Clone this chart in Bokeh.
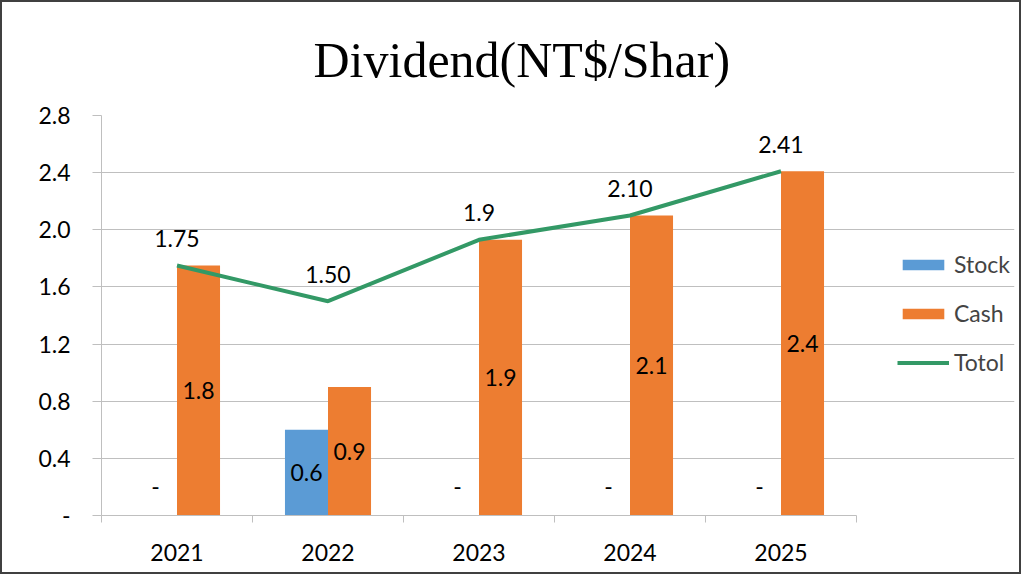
from bokeh.plotting import figure
from bokeh.models import (ColumnDataSource, LabelSet, Legend, LegendItem,
                          FixedTicker, Range1d, PrintfTickFormatter)
from bokeh.core.properties import value
from bokeh.embed import file_html
from bokeh.resources import INLINE

years = ["2021", "2022", "2023", "2024", "2025"]
stock = [0, 0.6, 0, 0, 0]
cash = [1.75, 0.9, 1.93, 2.10, 2.41]
total = [1.75, 1.50, 1.93, 2.10, 2.41]
total_labels = ["1.75", "1.50", "1.9", "2.10", "2.41"]
cash_labels = ["1.8", "0.9", "1.9", "2.1", "2.4"]
stock_labels = ["-", "0.6", "-", "-", "-"]
y_ticks = [0, 0.4, 0.8, 1.2, 1.6, 2.0, 2.4, 2.8]

BLUE = "#5B9BD5"
ORANGE = "#ED7D31"
GREEN = "#339966"
GRID = "#BFBFBF"
FONT = "Lato"

n = len(years)
PLOT_W = 755      # pixel width of the category area
FRAME_W = 913     # frame also hosts the legend on its right
xc = [i + 0.5 for i in range(n)]
bw = 0.285
src = ColumnDataSource(dict(
    xc=xc,
    xs=[x - bw / 2 for x in xc],
    xk=[x + bw / 2 for x in xc],
    stock=stock, cash=cash, total=total,
    tl=total_labels, cl=cash_labels, sl=stock_labels,
    sy=[v / 2 for v in stock],
    soff=[0 if v > 0 else 29 for v in stock],
    cy=[v / 2 for v in cash],
))

p = figure(frame_width=FRAME_W, frame_height=400, output_backend="svg",
           toolbar_location=None,
           x_range=Range1d(0, n * FRAME_W / PLOT_W), y_range=Range1d(0, 2.8),
           min_border_left=99, min_border_right=5, min_border_top=113,
           min_border_bottom=57)
p.styles = {"border": "2px solid #404040"}
p.outline_line_color = None
p.background_fill_color = "white"
p.border_fill_color = "white"

p.title.text = "Dividend(NT$/Shar)"
p.title.text_font = "Liberation Serif"
p.title.text_font_size = "50px"
p.title.text_font_style = "normal"
p.title.text_color = "black"
p.title.align = "left"
p.title.offset = 212
p.title.standoff = 55

rs = p.vbar(x="xs", top="stock", width=bw, source=src, color=BLUE, line_color=None)
rc = p.vbar(x="xk", top="cash", width=bw, source=src, color=ORANGE, line_color=None)
rl = p.line(x="xc", y="total", source=src, color=GREEN, line_width=4)

common = dict(text_font=value(FONT), text_font_size=value("23px"), text_color="black",
              text_align="center", text_baseline="middle", source=src)
p.add_layout(LabelSet(x="xs", y="sy", text="sl", y_offset="soff", **common))
p.add_layout(LabelSet(x="xk", y="cy", text="cl", **common))
p.add_layout(LabelSet(x="xc", y="total", text="tl", y_offset=27, **common))

# axes
xa = p.xaxis[0]
xa.bounds = (0, n)
xa.ticker = FixedTicker(ticks=xc, minor_ticks=list(range(n + 1)))
xa.major_label_overrides = {x: y for x, y in zip(xc, years)}
xa.major_tick_out = 0
xa.major_tick_in = 0
xa.minor_tick_out = 7
xa.minor_tick_in = 0
xa.minor_tick_line_color = GRID
xa.axis_line_color = GRID
xa.major_label_text_font = FONT
xa.major_label_text_font_size = "23px"
xa.major_label_text_color = "black"
xa.major_label_standoff = 21

ya = p.yaxis[0]
ya.ticker = FixedTicker(ticks=y_ticks)
ya.formatter = PrintfTickFormatter(format="%.1f")
ya.major_label_overrides = {0: "-"}
ya.major_tick_out = 9
ya.major_tick_in = 0
ya.minor_tick_line_color = None
ya.major_tick_line_color = GRID
ya.axis_line_color = GRID
ya.major_label_text_font = FONT
ya.major_label_text_font_size = "23px"
ya.major_label_text_color = "black"
ya.major_label_standoff = 22

p.xgrid.grid_line_color = None
p.ygrid.grid_line_color = GRID
p.ygrid.ticker = FixedTicker(ticks=y_ticks)
p.ygrid.bounds = (0, n)

legend = Legend(items=[LegendItem(label="Stock", renderers=[rs]),
                       LegendItem(label="Cash", renderers=[rc]),
                       LegendItem(label="Totol", renderers=[rl])],
                location=(796, 139), orientation="vertical",
                glyph_width=52, glyph_height=13, label_standoff=5,
                label_text_font=FONT, label_text_font_size="23px",
                label_height=24, spacing=21, padding=0, margin=0,
                border_line_color=None, background_fill_alpha=0)
p.add_layout(legend, "center")

open("out.html", "w").write(file_html(p, INLINE))
